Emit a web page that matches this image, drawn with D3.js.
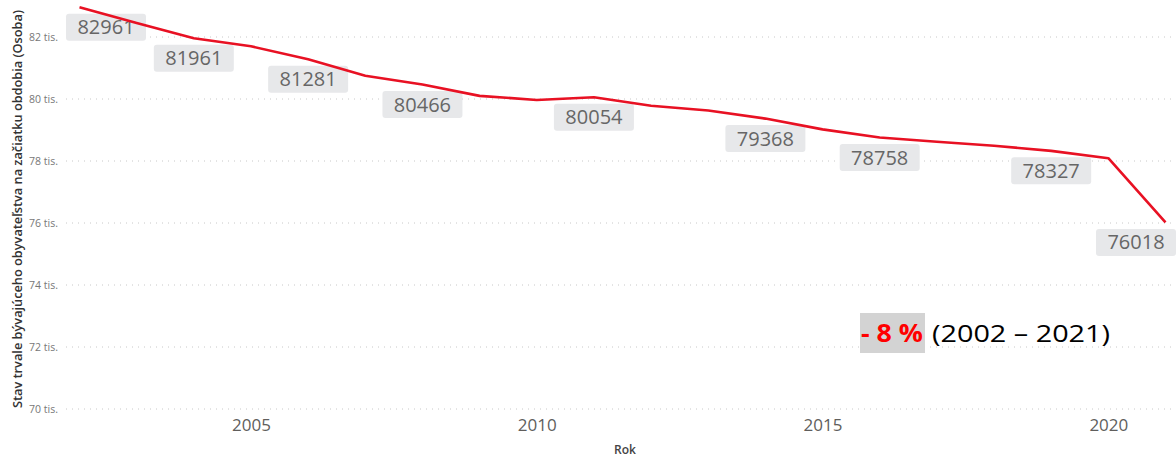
<!DOCTYPE html>
<html>
<head>
<meta charset="utf-8">
<script src="https://cdn.jsdelivr.net/npm/d3@7"></script>
<style>
  html, body { margin: 0; padding: 0; background: #fff; }
  svg { display: block; }
</style>
</head>
<body>
<svg id="chart" width="1176" height="458"></svg>
<script>
// Population at the start of each year
const years = [2002, 2003, 2004, 2005, 2006, 2007, 2008, 2009, 2010, 2011,
               2012, 2013, 2014, 2015, 2016, 2017, 2018, 2019, 2020, 2021];
const population = [82961, 82450, 81961, 81700, 81281, 80750, 80466, 80100, 79970, 80054,
                    79780, 79630, 79368, 79020, 78758, 78620, 78490, 78327, 78090, 76018];
// Years whose value is printed on the chart
const labelledYears = [2002, 2004, 2006, 2008, 2011, 2014, 2016, 2019, 2021];
const yTicks = [70000, 72000, 74000, 76000, 78000, 80000, 82000];
const xTicks = [2005, 2010, 2015, 2020];
const yTitle = "Stav trvale bývajúceho obyvateľstva na začiatku obdobia (Osoba)";
const xTitle = "Rok";
const changeText = "- 8 %";
const periodText = "(2002 – 2021)";

const data = years.map((y, i) => ({ year: y, value: population[i] }));

const svg = d3.select("#chart");
const plot = { left: 66, right: 1176, top: 0, bottom: 409 };

const x = d3.scaleLinear().domain([2002, 2021]).range([79.5, 1165.5]);
const y = d3.scaleLinear().domain([70000, 82000]).range([409, 37]);

// Dotted horizontal gridlines
svg.append("g").selectAll("line").data(yTicks).join("line")
  .attr("x1", plot.left).attr("x2", plot.right)
  .attr("y1", d => y(d)).attr("y2", d => y(d))
  .attr("stroke", "#c8c8c8").attr("stroke-width", 1)
  .attr("stroke-dasharray", "1,5");

// Y axis tick labels
const yAxis = d3.axisLeft(y).tickValues(yTicks).tickSize(0).tickPadding(0)
  .tickFormat(d => (d / 1000) + " tis.");
svg.append("g").attr("transform", "translate(58,0)").call(yAxis)
  .call(g => g.select(".domain").remove())
  .selectAll("text")
  .attr("font-family", "'Open Sans', sans-serif")
  .attr("font-size", 10.5).attr("fill", "#777");

// X axis tick labels
const xAxis = d3.axisBottom(x).tickValues(xTicks).tickSize(0).tickPadding(0)
  .tickFormat(d3.format("d"));
svg.append("g").attr("transform", "translate(0,419)").call(xAxis)
  .call(g => g.select(".domain").remove())
  .selectAll("text")
  .attr("font-family", "'Open Sans', sans-serif")
  .attr("font-size", 17).attr("fill", "#605e5c");

// Axis titles
svg.append("text")
  .attr("x", 625).attr("y", 454)
  .attr("text-anchor", "middle")
  .attr("font-family", "'Open Sans', sans-serif")
  .attr("font-size", 12).attr("font-weight", 600).attr("fill", "#444")
  .text(xTitle);

svg.append("text")
  .attr("transform", "translate(22,209) rotate(-90)")
  .attr("text-anchor", "middle")
  .attr("font-family", "'Open Sans', sans-serif")
  .attr("font-size", 12.5).attr("font-weight", 600).attr("fill", "#333")
  .attr("textLength", 398).attr("lengthAdjust", "spacingAndGlyphs")
  .text(yTitle);

// Data labels below their points
const boxW = 80, boxH = 27;
const labelled = data.filter(d => labelledYears.includes(d.year));
const lab = svg.append("g").selectAll("g").data(labelled).join("g")
  .attr("transform", d => {
    const cx = Math.max(plot.left + boxW / 2, Math.min(plot.right - boxW / 2, x(d.year)));
    return `translate(${cx},${y(d.value) + 6.5})`;
  });
lab.append("rect")
  .attr("x", -boxW / 2).attr("y", 0)
  .attr("width", boxW).attr("height", boxH)
  .attr("rx", 3).attr("fill", "#e7e8ea");
lab.append("text")
  .attr("x", 0).attr("y", boxH / 2 + 7)
  .attr("text-anchor", "middle")
  .attr("font-family", "'Open Sans', sans-serif")
  .attr("font-size", 20).attr("fill", "#666")
  .text(d => d.value);

// Population line
const line = d3.line().x(d => x(d.year)).y(d => y(d.value));
svg.append("path").datum(data)
  .attr("d", line)
  .attr("fill", "none")
  .attr("stroke", "#e81123").attr("stroke-width", 2.6)
  .attr("stroke-linejoin", "round");

// Overall change note
const note = svg.append("g");
note.append("rect")
  .attr("x", 860).attr("y", 313).attr("width", 65).attr("height", 40)
  .attr("fill", "#d3d3d3");
note.append("text")
  .attr("x", 861).attr("y", 342)
  .attr("font-family", "'Open Sans', sans-serif")
  .attr("font-size", 25).attr("font-weight", 700).attr("fill", "#ff0000")
  .attr("textLength", 62).attr("lengthAdjust", "spacingAndGlyphs")
  .text(changeText);
note.append("text")
  .attr("x", 932).attr("y", 342)
  .attr("font-family", "'Open Sans', sans-serif")
  .attr("font-size", 24).attr("fill", "#000")
  .attr("textLength", 178).attr("lengthAdjust", "spacingAndGlyphs")
  .text(periodText);
</script>
</body>
</html>
